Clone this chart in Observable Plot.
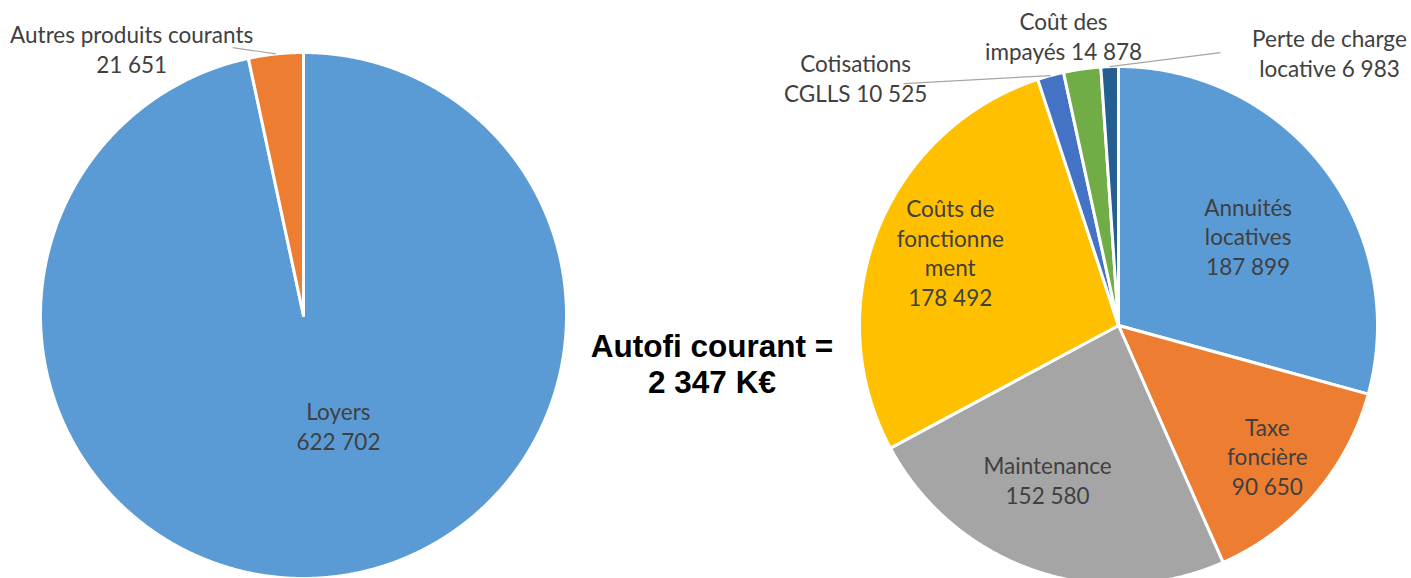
<!DOCTYPE html>
<html><head><meta charset="utf-8">
<script src="https://cdn.jsdelivr.net/npm/d3@7"></script>
<script src="https://cdn.jsdelivr.net/npm/@observablehq/plot@0.6"></script>
<style>
html,body{margin:0;padding:0;background:#fff;overflow:hidden}
#wrap{position:relative;width:1411px;height:578px}
#title{position:absolute;left:562px;width:300px;top:328px;text-align:center;font:bold 31.5px "Liberation Sans",Arial,sans-serif;line-height:36px;color:#000}
</style></head><body><div id="wrap"><div id="chart"></div><div id="title">Autofi courant =<br>2 347 K€</div></div>
<script>
// Produits (left pie)
const produitsNames = ["Loyers", "Autres produits courants"];
const produitsValues = [622702, 21651];
const produitsColors = ["#5B9BD5", "#ED7D31"];
// Charges (right pie)
const chargesNames = ["Annuités locatives", "Taxe foncière", "Maintenance", "Coûts de fonctionnement", "Cotisations CGLLS", "Coût des impayés", "Perte de charge locative"];
const chargesValues = [187899, 90650, 152580, 178492, 10525, 14878, 6983];
const chargesColors = ["#5B9BD5", "#ED7D31", "#A5A5A5", "#FFC000", "#4472C4", "#70AD47", "#255E91"];
// Label wrapping as shown on the chart
const produitsWrapped = ["Loyers\n", "Autres produits courants\n"];
const chargesWrapped = ["Annuités\nlocatives\n", "Taxe\nfoncière\n", "Maintenance\n", "Coûts de\nfonctionne\nment\n", "Cotisations\nCGLLS ", "Coût des\nimpayés ", "Perte de charge\nlocative "];

const fmt = v => String(v).replace(/\B(?=(\d{3})+(?!\d))/g, " ");

// layout
const pies = [
  {id: "p", names: produitsNames, values: produitsValues, colors: produitsColors, wrapped: produitsWrapped,
   cx: 303, cy: 315, R: 263,
   place: [{k: 0.43, dx: 23, dy: -2.5}, {k: 1.078, dx: -142, dy: 15, lead: [101, -1]}]},
  {id: "c", names: chargesNames, values: chargesValues, colors: chargesColors, wrapped: chargesWrapped,
   cx: 1118, cy: 325, R: 259,
   place: [{k: 0.61, dx: 4, dy: 6}, {k: 0.764, dx: -1, dy: 1}, {k: 0.652, dx: -16, dy: -5.5}, {k: 0.708, dx: 2, dy: -5.5},
           {k: 1.19, dx: -182, dy: 49.5, lead: [48, 6]}, {k: 1.138, dx: -13.5, dy: 2}, {k: 1.025, dx: 220, dy: -7.6, lead: [-109, 0]}]}
];

const polys = [], labels = [], leaders = [];
for (const p of pies) {
  const arcs = d3.pie().sort(null).value(d => d)(p.values);
  arcs.forEach((a, i) => {
    const key = p.id + i, c = p.colors[i];
    polys.push({key, x: p.cx, y: p.cy, c});
    const n = Math.max(2, Math.ceil((a.endAngle - a.startAngle) / 0.004));
    for (let j = 0; j <= n; j++) {
      const t = a.startAngle + (a.endAngle - a.startAngle) * j / n;
      polys.push({key, x: p.cx + p.R * Math.sin(t), y: p.cy - p.R * Math.cos(t), c});
    }
    polys.push({key, x: p.cx, y: p.cy, c});
    const mid = (a.startAngle + a.endAngle) / 2, pl = p.place[i];
    const lx = p.cx + pl.k * p.R * Math.sin(mid) + pl.dx;
    const ly = p.cy - pl.k * p.R * Math.cos(mid) + pl.dy;
    labels.push({x: lx, y: ly, text: p.wrapped[i] + fmt(p.values[i])});
    if (pl.lead) {
      leaders.push({x1: p.cx + p.R * Math.sin(mid), y1: p.cy - p.R * Math.cos(mid), x2: lx + pl.lead[0], y2: ly + pl.lead[1]});
    }
  });
}

const fs = 22.5;
const chart = Plot.plot({
  width: 1411, height: 578, margin: 0,
  x: {domain: [0, 1411], range: [0, 1411], axis: null},
  y: {domain: [0, 578], range: [0, 578], axis: null},
  color: {type: "identity"},
  marks: [
    Plot.line(polys, {x: "x", y: "y", z: "key", fill: "c", stroke: "white", strokeWidth: 3, strokeLinejoin: "round"}),
    Plot.link(leaders, {x1: "x1", y1: "y1", x2: "x2", y2: "y2", stroke: "#A6A6A6", strokeWidth: 1.2}),
    Plot.text(labels, {x: "x", y: "y", text: "text", fill: "#404040", fontSize: fs, lineHeight: 29.5 / fs,
      fontFamily: "Lato, 'Open Sans', sans-serif"})
  ]
});
document.getElementById("chart").appendChild(chart);
</script></body></html>
